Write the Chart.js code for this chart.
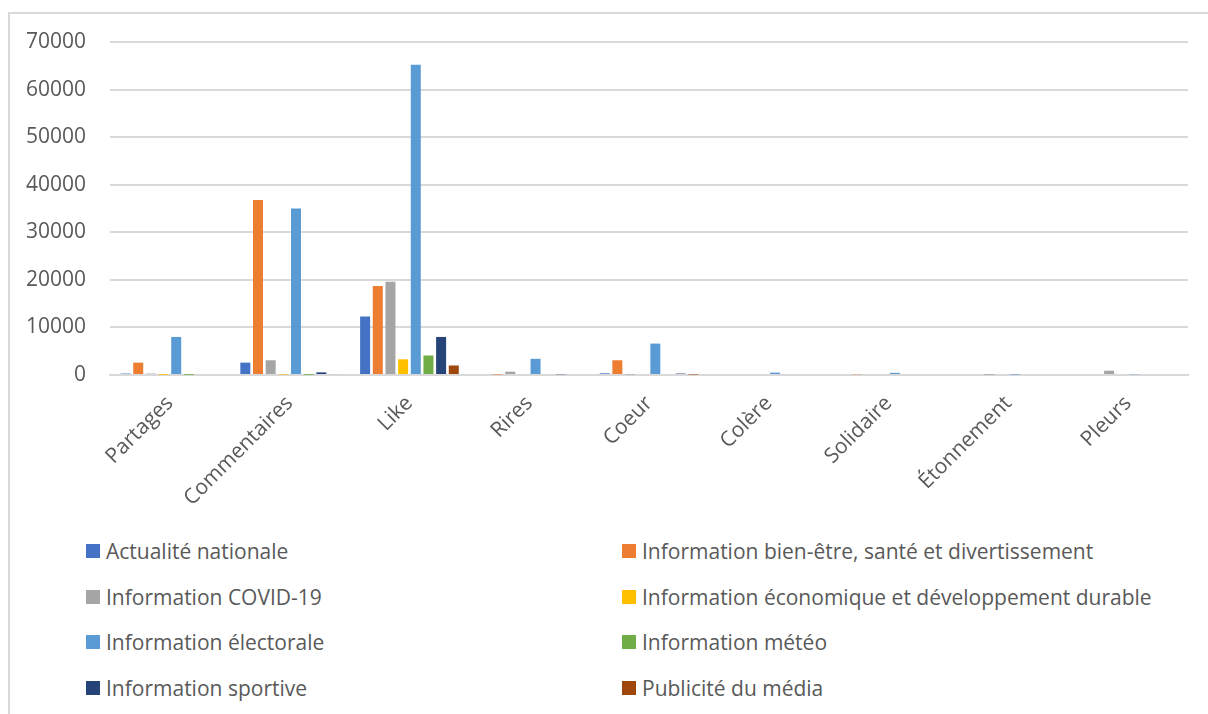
<!DOCTYPE html>
<html>
<head>
<meta charset="utf-8">
<script src="https://cdn.jsdelivr.net/npm/chart.js@4"></script>
<style>
    body { margin: 0; background: #fff; font-family: "Open Sans", sans-serif; }
    #wrap { position: relative; width: 1208px; height: 714px; overflow: hidden; }
    #frame { position: absolute; left: 8px; top: 12px; width: 1300px; height: 800px;
             border-left: 2px solid #d9d9d9; border-top: 2px solid #d9d9d9; }
    #chart { position: absolute; left: 0; top: 0; }
    #legend { position: absolute; left: 86px; top: 528px; width: 1100px;
              display: grid; grid-template-columns: 536px 520px; grid-auto-rows: 45.7px; }
    .item { display: flex; align-items: center; font-size: 21px; color: #595959; white-space: nowrap; }
    .box { width: 14px; height: 14px; margin-right: 6px; flex: none; }
</style>
</head>
<body>
<div id="wrap">
    <div id="frame"></div>
    <canvas id="chart" width="1208" height="520"></canvas>
    <div id="legend"></div>
</div>
<script>
// Categories (reactions)
const categories = ["Partages", "Commentaires", "Like", "Rires", "Coeur", "Colère", "Solidaire", "Étonnement", "Pleurs"];

// Series names and colours
const seriesNames = [
    "Actualité nationale",
    "Information bien-être, santé et divertissement",
    "Information COVID-19",
    "Information économique et développement durable",
    "Information électorale",
    "Information météo",
    "Information sportive",
    "Publicité du média"
];
const seriesColors = ["#4472C4", "#ED7D31", "#A5A5A5", "#FFC000", "#5B9BD5", "#70AD47", "#264478", "#9E480E"];

// Values, one array per series
const actualiteNationale = [300, 2600, 12300, 0, 350, 0, 0, 0, 0];
const bienEtre = [2600, 36800, 18700, 100, 3100, 0, 150, 0, 0];
const covid19 = [300, 3100, 19600, 700, 100, 0, 0, 50, 900];
const economique = [50, 100, 3300, 0, 0, 0, 0, 0, 0];
const electorale = [8000, 35000, 65200, 3400, 6600, 500, 450, 100, 150];
const meteo = [50, 50, 4100, 0, 0, 0, 0, 0, 0];
const sportive = [0, 550, 8000, 150, 300, 0, 0, 0, 0];
const publicite = [0, 200, 2000, 0, 100, 0, 0, 0, 0];

const seriesValues = [actualiteNationale, bienEtre, covid19, economique, electorale, meteo, sportive, publicite];

// Y axis ticks
const yMin = 0;
const yMax = 70000;
const yStep = 10000;

const datasets = seriesNames.map((name, i) => ({
    label: name,
    data: seriesValues[i],
    backgroundColor: seriesColors[i],
    categoryPercentage: 0.846,
    barPercentage: 0.79
}));

new Chart(document.getElementById("chart"), {
    type: "bar",
    data: { labels: categories, datasets: datasets },
    options: {
        responsive: false,
        animation: false,
        layout: { padding: { top: 42, right: 20, left: 0, bottom: 0 } },
        plugins: { legend: { display: false }, tooltip: { enabled: false } },
        scales: {
            x: {
                grid: { display: false, drawTicks: false },
                border: { color: "#d9d9d9", width: 2 },
                ticks: {
                    color: "#595959",
                    font: { family: "Open Sans", size: 21 },
                    minRotation: 45,
                    maxRotation: 45,
                    padding: 16
                },
                afterFit: function(axis) { axis.height = 145; }
            },
            y: {
                min: yMin,
                max: yMax,
                grid: { color: "#d9d9d9", lineWidth: 2, drawTicks: false },
                border: { display: false },
                ticks: {
                    stepSize: yStep,
                    color: "#595959",
                    font: { family: "Open Sans", size: 21 },
                    padding: 24,
                    callback: function(value) { return String(value); }
                },
                afterFit: function(axis) { axis.width = 110; }
            }
        }
    }
});

// Two-column legend below the chart
const legend = document.getElementById("legend");
seriesNames.forEach((name, i) => {
    const item = document.createElement("div");
    item.className = "item";
    const box = document.createElement("span");
    box.className = "box";
    box.style.background = seriesColors[i];
    item.appendChild(box);
    item.appendChild(document.createTextNode(name));
    legend.appendChild(item);
});
</script>
</body>
</html>
